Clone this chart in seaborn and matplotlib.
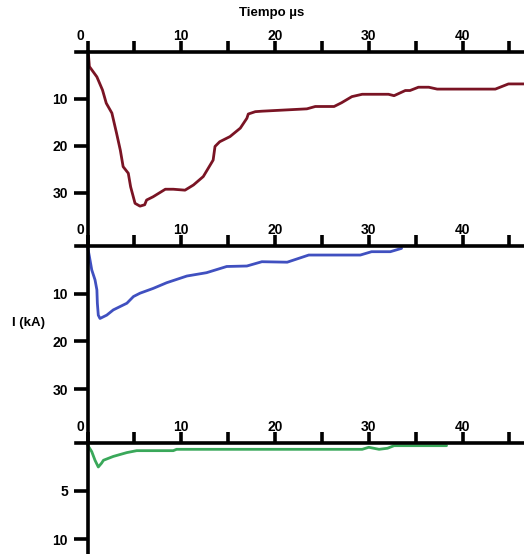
import numpy as np
import pandas as pd
import seaborn as sns
import matplotlib.pyplot as plt
from matplotlib.transforms import ScaledTranslation

# first stroke (kA vs us)
t1 = [0.1, 0.2, 1.0, 1.6, 2.0, 2.6, 3.1, 3.5, 3.8, 4.35, 4.6, 5.07, 5.6, 6.1, 6.3, 7.0, 8.3,
      9.15, 10.4, 11.3, 12.35, 13.4, 13.6, 14.1, 15.2, 16.3, 17.0, 17.15, 17.9, 18.6, 23.4,
      24.3, 26.3, 27.1, 28.2, 29.3, 32.1, 32.7, 33.9, 34.4, 35.3, 36.4, 37.3, 43.5, 44.9, 47.0]
i1 = [0.6, 3.1, 5.3, 8.1, 10.9, 13.0, 17.3, 20.9, 24.4, 25.8, 28.7, 32.2, 32.8, 32.5, 31.5, 30.8, 29.2,
      29.2, 29.4, 28.3, 26.5, 23.0, 20.1, 19.1, 18.0, 16.2, 14.1, 13.2, 12.7, 12.6, 12.1,
      11.6, 11.6, 10.8, 9.5, 9.0, 9.0, 9.3, 8.2, 8.2, 7.5, 7.5, 7.9, 7.9, 6.8, 6.8]

# second stroke
t2 = [0.0, 0.2, 0.45, 0.8, 1.0, 1.05, 1.15, 1.33, 2.05, 2.75, 4.2, 4.9, 5.6, 7.0, 8.45, 10.6,
      12.7, 14.85, 17.0, 18.6, 21.3, 23.6, 29.1, 30.3, 32.3, 33.5]
i2 = [0.1, 2.2, 5.0, 7.1, 9.2, 12.0, 14.5, 15.2, 14.5, 13.4, 12.0, 10.6, 9.9, 8.9, 7.7, 6.3,
      5.6, 4.3, 4.2, 3.3, 3.4, 1.9, 1.9, 1.2, 1.2, 0.5]

# third stroke
t3 = [0.0, 0.45, 0.8, 1.15, 1.5, 1.7, 2.75, 4.2, 5.25, 9.15, 9.5, 18.6, 29.3, 30.0, 31.1,
      32.0, 32.7, 38.3]
i3 = [0.2, 0.9, 1.8, 2.5, 2.1, 1.8, 1.4, 1.0, 0.8, 0.8, 0.66, 0.66, 0.66, 0.45, 0.66,
      0.55, 0.28, 0.28]

x_ticks = np.arange(0, 50, 5)
x_labels = ['0', '', '10', '', '20', '', '30', '', '40', '']

sns.set_style("white")
plt.rcParams['font.family'] = ['Liberation Sans', 'DejaVu Sans']
plt.rcParams['font.weight'] = 'bold'

fig = plt.figure(figsize=(5.24, 5.54), dpi=100)

panels = [
    (t1, i1, '#7a1424', [0.5578, 0.3484], 41.06, [10, 20, 30]),
    (t2, i2, '#4050c0', [0.2004, 0.3556], 41.3, [10, 20, 30]),
    (t3, i3, '#3aa85a', [0.0, 0.2004], 11.56, [5, 10]),
]

for t, i, col, (bottom, height), ymax, yt in panels:
    ax = fig.add_axes([0.145, bottom, 0.855, height])
    df = pd.DataFrame({'t': t, 'i': i})
    sns.lineplot(data=df, x='t', y='i', ax=ax, color=col, lw=2, sort=False, estimator=None)
    ax.set_xlim(-1.23, 46.56)
    ax.set_ylim(ymax, 0)
    ax.set_facecolor('white')
    for s in ['right', 'bottom']:
        ax.spines[s].set_visible(False)
    for s in ['top', 'left']:
        ax.spines[s].set_color('black')
        ax.spines[s].set_linewidth(2.6)
    ax.spines['left'].set_position(('data', 0))
    ax.xaxis.tick_top()
    ax.set_xticks(x_ticks)
    ax.set_xticklabels(x_labels)
    ax.set_yticks(yt)
    ax.tick_params(axis='x', which='major', top=True, bottom=False, direction='out',
                   length=8, width=2.6, pad=-1.5, labelsize=10, colors='black')
    ax.tick_params(axis='y', which='major', left=True, right=False, direction='out',
                   length=10, width=2.6, pad=4, labelsize=10, colors='black')
    for lab in ax.get_xticklabels() + ax.get_yticklabels():
        lab.set_fontweight('bold')
    # the "0" sits a little left of its tick in the original
    zero = ax.get_xticklabels()[0]
    zero.set_transform(zero.get_transform() + ScaledTranslation(-0.075, 0, fig.dpi_scale_trans))
    ax.set_xlabel('')
    ax.set_ylabel('')

fig.text(272 / 524, 1 - 13 / 554, 'Tiempo µs', ha='center', va='center',
         fontsize=9.5, fontweight='bold', color='black')
fig.text(28 / 524, 1 - 323 / 554, 'I (kA)', ha='center', va='center',
         fontsize=9.5, fontweight='bold', color='black')

fig.savefig('out.png', dpi=100, facecolor='white')
